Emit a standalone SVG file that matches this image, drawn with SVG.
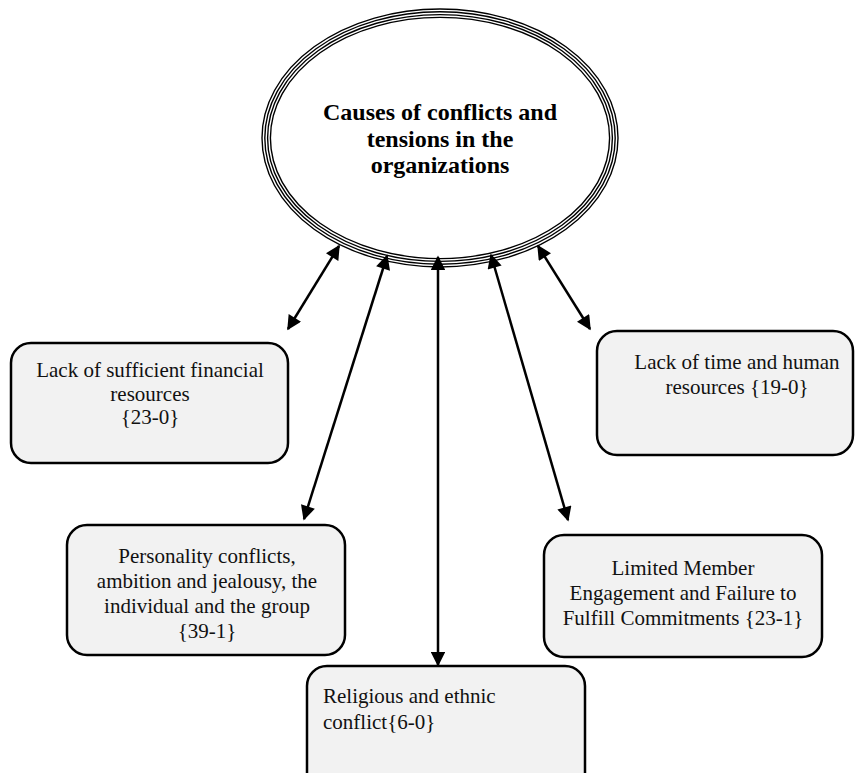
<svg xmlns="http://www.w3.org/2000/svg" width="864" height="773" viewBox="0 0 864 773">
<style>
.box{fill:#f2f2f2;stroke:#000;stroke-width:2.5}
.t{font-family:"Liberation Serif","Times New Roman",serif;font-size:21px;fill:#111}
.c{text-anchor:middle}
.title{font-family:"Liberation Serif","Times New Roman",serif;font-size:24px;font-weight:bold;text-anchor:middle;fill:#000}
.ring{fill:none;stroke:#000;stroke-width:1.4}
.conn{stroke:#000;stroke-width:2.5;fill:none;marker-start:url(#ah);marker-end:url(#ah)}
</style>
<defs>
<marker id="ah" viewBox="0 0 10 10" refX="9" refY="5" markerWidth="6.4" markerHeight="5.8" orient="auto-start-reverse" markerUnits="strokeWidth">
<path d="M0,0 L10,5 L0,10 z" fill="#000"/>
</marker>
</defs>
<rect width="864" height="773" fill="#fff"/>
<g id="center">
<ellipse class="ring" cx="440" cy="138" rx="178" ry="129"/>
<ellipse class="ring" cx="440" cy="138" rx="175.2" ry="126.2"/>
<ellipse class="ring" cx="440" cy="138" rx="172.4" ry="123.4"/>
<ellipse class="ring" cx="440" cy="138" rx="169.6" ry="120.6"/>
<text class="title" x="440" y="120">Causes of conflicts and</text>
<text class="title" x="440" y="147">tensions in the</text>
<text class="title" x="440" y="173">organizations</text>
</g>
<g id="connectors">
<line class="conn" x1="288" y1="329" x2="339" y2="246"/>
<line class="conn" x1="304" y1="519" x2="387" y2="256"/>
<line class="conn" x1="438" y1="665" x2="438" y2="257"/>
<line class="conn" x1="568" y1="520" x2="491" y2="255"/>
<line class="conn" x1="590" y1="329" x2="538" y2="246"/>
</g>
<g id="financial">
<rect class="box" x="11" y="343" width="277" height="120" rx="20"/>
<text class="t c" x="150" y="377">Lack of sufficient financial</text>
<text class="t c" x="150" y="401">resources</text>
<text class="t c" x="150" y="424">{23-0}</text>
</g>
<g id="time">
<rect class="box" x="597" y="331" width="256" height="124" rx="20"/>
<text class="t c" x="737" y="369">Lack of time and human</text>
<text class="t c" x="737" y="394">resources {19-0}</text>
</g>
<g id="personality">
<rect class="box" x="67" y="525" width="278" height="130" rx="20"/>
<text class="t c" x="207" y="563">Personality conflicts,</text>
<text class="t c" x="207" y="588">ambition and jealousy, the</text>
<text class="t c" x="207" y="613">individual and the group</text>
<text class="t c" x="207" y="638">{39-1}</text>
</g>
<g id="engagement">
<rect class="box" x="544" y="535" width="278" height="122" rx="20"/>
<text class="t c" x="683" y="575">Limited Member</text>
<text class="t c" x="683" y="600">Engagement and Failure to</text>
<text class="t c" x="683" y="625">Fulfill Commitments {23-1}</text>
</g>
<g id="religious">
<rect class="box" x="307" y="666" width="278" height="130" rx="20"/>
<text class="t" x="323" y="703">Religious and ethnic</text>
<text class="t" x="323" y="729">conflict{6-0}</text>
</g>
</svg>
